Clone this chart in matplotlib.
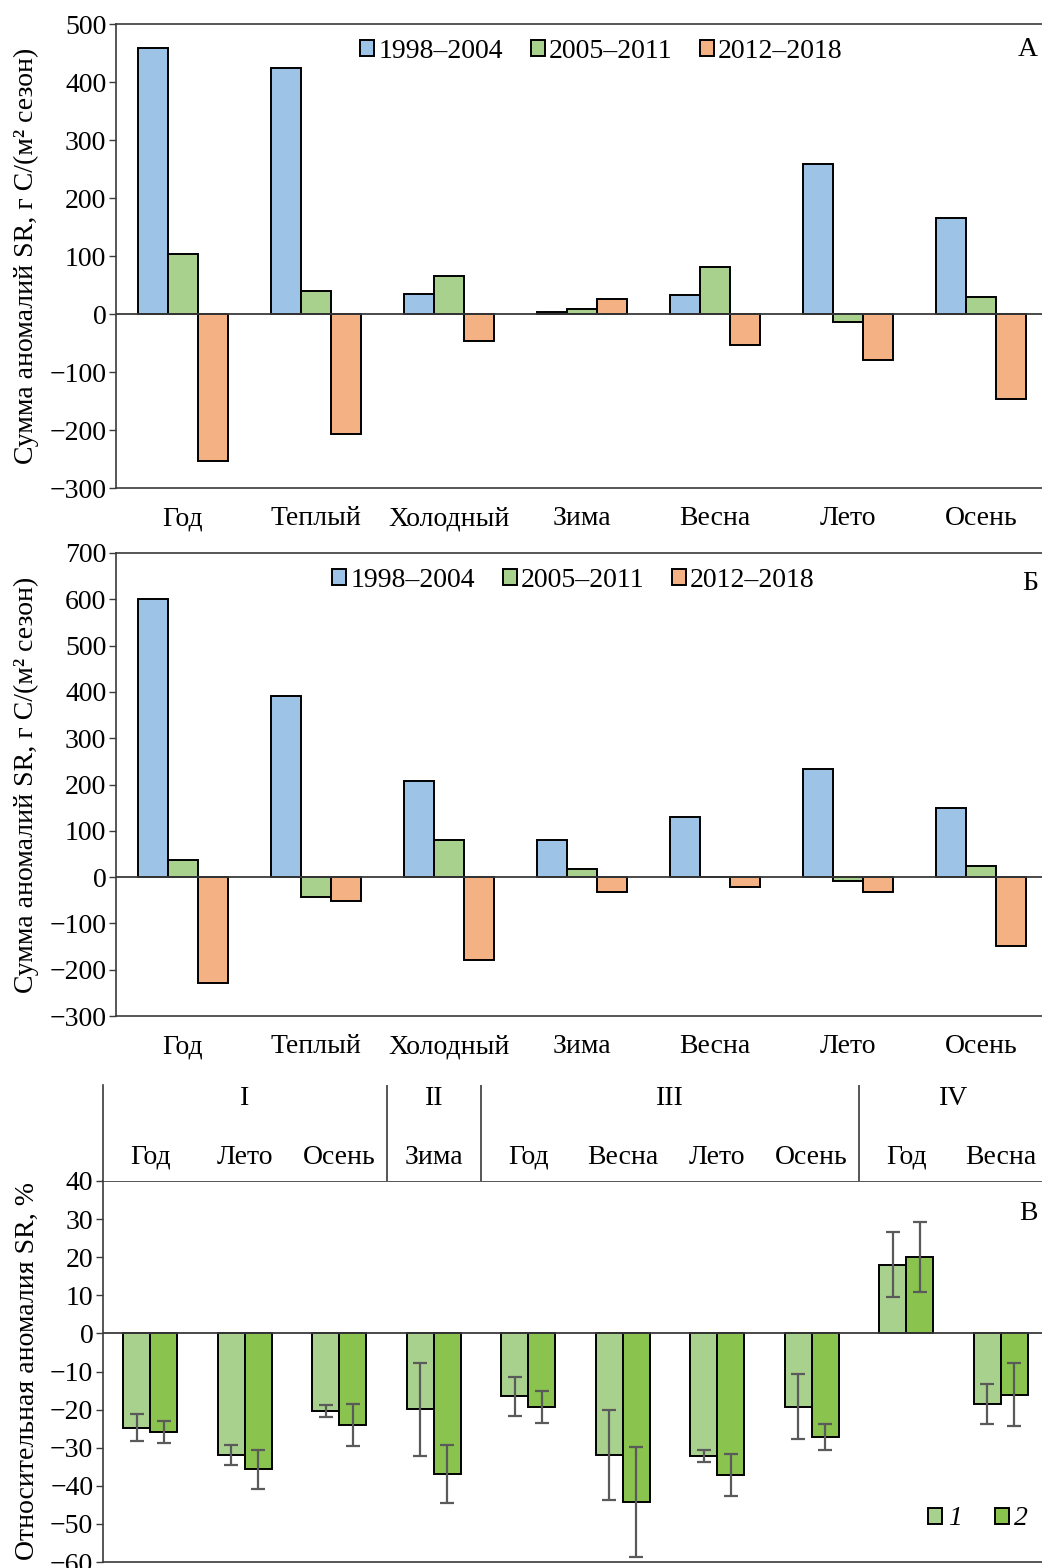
import numpy as np
import matplotlib.pyplot as plt
from matplotlib.patches import Patch

plt.rcParams['font.family'] = ['Liberation Serif', 'DejaVu Serif']
plt.rcParams['font.size'] = 20

# данные панелей А и Б
categories = ['Год', 'Теплый', 'Холодный', 'Зима', 'Весна', 'Лето', 'Осень']
periods = ['1998–2004', '2005–2011', '2012–2018']
a_1998 = [458, 424, 35, 4, 33, 259, 166]
a_2005 = [104, 40, 66, 8, 81, -13, 29]
a_2012 = [-253, -207, -46, 26, -54, -79, -146]
b_1998 = [600, 391, 207, 80, 130, 233, 149]
b_2005 = [37, -43, 80, 17, 1, -9, 24]
b_2012 = [-229, -52, -179, -32, -22, -32, -149]

# данные панели В
c_seasons = ['Год', 'Лето', 'Осень', 'Зима', 'Год', 'Весна', 'Лето', 'Осень', 'Год', 'Весна']
c_zones = ['I', 'II', 'III', 'IV']
c_zone_sizes = [3, 1, 4, 2]
c_1 = [-24.7, -32.0, -20.4, -19.9, -16.5, -32.0, -32.2, -19.2, 18.0, -18.6]
c_1_err = [3.6, 2.6, 1.5, 12.2, 5.1, 11.8, 1.5, 8.6, 8.5, 5.2]
c_2 = [-25.9, -35.7, -24.1, -36.9, -19.3, -44.2, -37.1, -27.2, 20.0, -16.1]
c_2_err = [2.9, 5.2, 5.5, 7.6, 4.2, 14.5, 5.5, 3.5, 9.2, 8.3]

colors = ['#9dc3e6', '#a9d18e', '#f4b183']
green1 = '#a9d18e'
green2 = '#8bc34f'
axcol = '#3a3a3a'

W, H = 1042, 1568
fig = plt.figure(figsize=(W / 100, H / 100), dpi=100)


def box(l, t, r, b):
    return [l / W, 1 - b / H, (r - l) / W, (b - t) / H]


def style(ax):
    for s in ax.spines.values():
        s.set_color(axcol)
        s.set_linewidth(1.2)
    ax.spines['right'].set_visible(False)
    ax.tick_params(axis='y', direction='out', length=5, width=1, color=axcol, pad=2)
    ax.tick_params(axis='x', length=0)


def season_panel(ax, vals, ylim, step, letter, letter_y, leg_x):
    x = np.arange(len(categories))
    w = 0.225
    for i, v in enumerate(vals):
        ax.bar(x + (i - 1) * w, v, w, color=colors[i], edgecolor='black', linewidth=1.4, zorder=2)
    ax.axhline(0, color=axcol, lw=1.3, zorder=3)
    ax.set_xlim(-0.5, len(categories) - 0.5)
    ax.set_ylim(*ylim)
    ax.set_yticks(np.arange(ylim[0], ylim[1] + 1, step))
    ax.set_xticks(x)
    ax.set_xticklabels(categories)
    ax.tick_params(axis='x', pad=13)
    style(ax)
    ax.set_ylabel('Сумма аномалий SR, г C/(м² сезон)')
    ax.yaxis.set_label_coords(-0.083, 0.5)
    handles = [Patch(facecolor=c, edgecolor='black', linewidth=1.4) for c in colors]
    ax.legend(handles, periods, loc='upper center', bbox_to_anchor=(leg_x, 1.01), ncol=3,
              frameon=False, handlelength=0.5, handleheight=0.5, handletextpad=0.15,
              columnspacing=1.0, borderaxespad=0.3)
    fig.text(1038 / W, 1 - letter_y / H, letter, ha='right', va='center')


axA = fig.add_axes(box(116, 24, 1048, 488))
season_panel(axA, [a_1998, a_2005, a_2012], (-300, 500), 100, 'А', 49, 0.521)

axB = fig.add_axes(box(116, 553, 1048, 1016))
season_panel(axB, [b_1998, b_2005, b_2012], (-300, 700), 100, 'Б', 584, 0.491)

# панель В
axC = fig.add_axes(box(103, 1181, 1048, 1562))
xc = np.arange(len(c_seasons))
wc = 0.285
ekw = dict(ecolor='#5a5a5a', elinewidth=1.6, capsize=5, capthick=1.6)
axC.bar(xc - wc / 2, c_1, wc, yerr=c_1_err, color=green1, edgecolor='black', linewidth=1.4,
        error_kw=ekw, zorder=2, label='1')
axC.bar(xc + wc / 2, c_2, wc, yerr=c_2_err, color=green2, edgecolor='black', linewidth=1.4,
        error_kw=ekw, zorder=2, label='2')
axC.axhline(0, color=axcol, lw=1.3, zorder=3)
axC.set_xlim(-0.5, len(c_seasons) - 0.5)
axC.set_ylim(-60, 40)
axC.set_yticks(np.arange(-60, 41, 10))
axC.set_xticks([])
style(axC)
axC.set_ylabel('Относительная аномалия SR, %')
axC.yaxis.set_label_coords(-0.067, 0.5)
axC.legend(loc='center', bbox_to_anchor=(0.926, 0.113), ncol=2, frameon=False,
           handlelength=0.5, handleheight=0.5, handletextpad=0.2, columnspacing=1.2,
           prop={'style': 'italic', 'size': 20})
fig.text(1038 / W, 1 - 1213 / H, 'В', ha='right', va='center')

# шапка панели В
axH = fig.add_axes(box(103, 1085, 1048, 1181))
axH.set_xlim(-0.5, len(c_seasons) - 0.5)
axH.set_ylim(0, 1)
for s in ['top', 'right', 'bottom']:
    axH.spines[s].set_visible(False)
axH.spines['left'].set_color(axcol)
axH.spines['left'].set_linewidth(1.2)
axH.set_xticks([])
axH.set_yticks([])
bounds = np.cumsum(c_zone_sizes)
start = 0
for zone, end in zip(c_zones, bounds):
    axH.text((start + end - 1) / 2, 0.86, zone, ha='center', va='center')
    if end < len(c_seasons):
        axH.axvline(end - 0.5, color=axcol, lw=1.2)
    start = end
for i, s in enumerate(c_seasons):
    axH.text(i, 0.25, s, ha='center', va='center')

fig.savefig('out.png', dpi=100)
